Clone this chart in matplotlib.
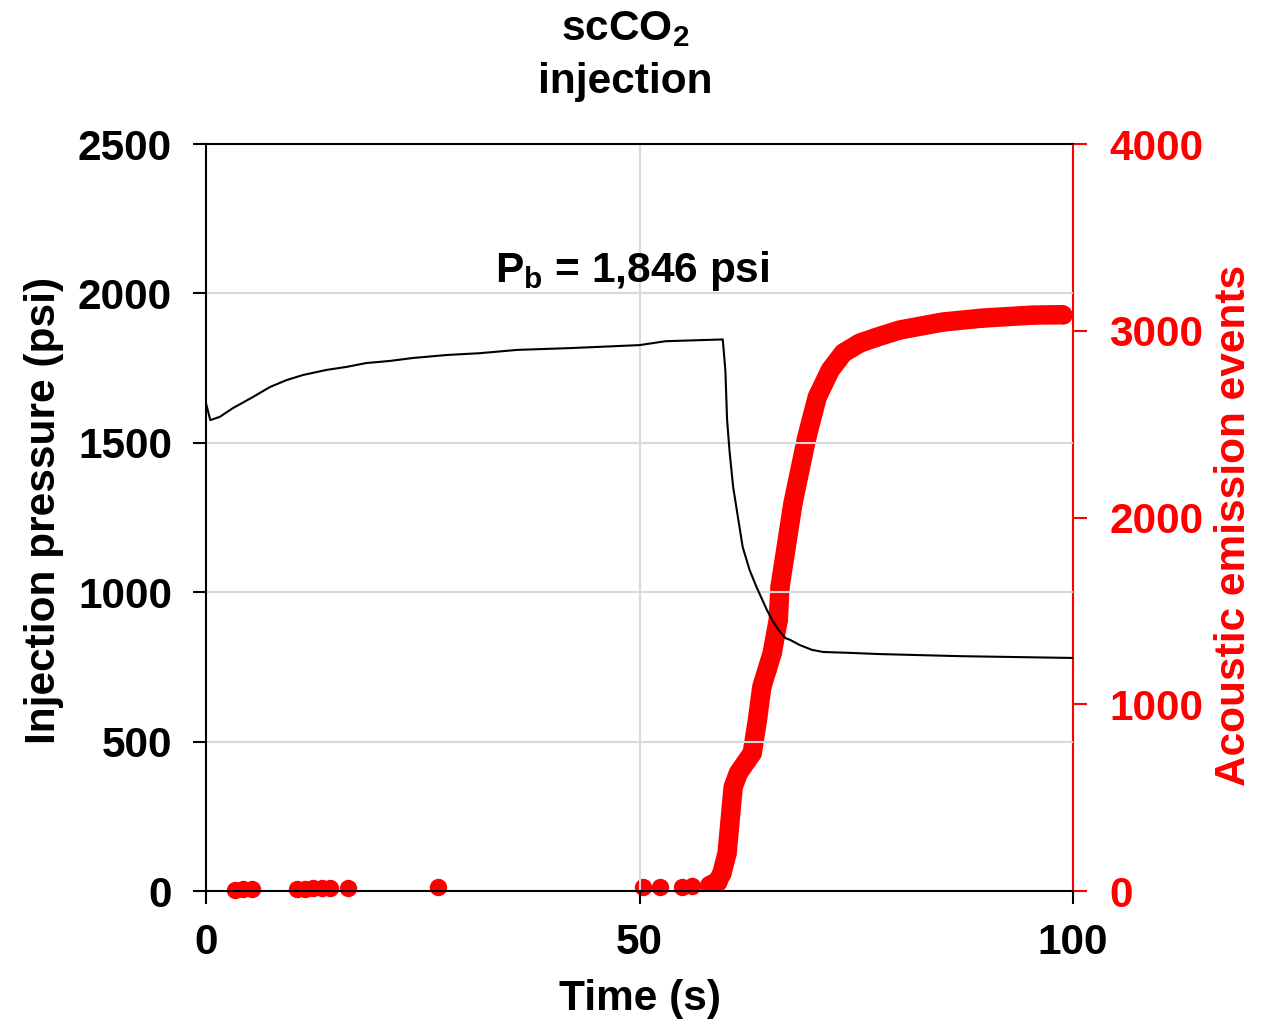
import matplotlib.pyplot as plt

plt.rcParams['font.family'] = ['Liberation Sans', 'DejaVu Sans']
plt.rcParams['font.weight'] = 'bold'
plt.rcParams['mathtext.fontset'] = 'custom'
plt.rcParams['mathtext.rm'] = 'Liberation Sans:bold'
plt.rcParams['mathtext.bf'] = 'Liberation Sans:bold'
plt.rcParams['mathtext.default'] = 'bf'

# injection pressure (psi) vs time (s)
p_time = [0.0, 0.5, 1.6, 3.1, 5.4, 7.4, 9.3, 11.2, 13.9, 16.2, 18.5, 21.2, 23.9, 27.8,
          31.6, 35.9, 42.0, 50.0, 53.0, 59.6, 59.9, 60.1, 60.4, 60.8, 61.4, 61.9, 62.7,
          63.5, 64.7, 65.3, 66.0, 66.8, 67.4, 68.5, 69.9, 71.2, 74.3, 77.7, 87.0, 100.0]
pressure = [1633, 1576, 1587, 1616, 1653, 1687, 1710, 1727, 1744, 1754, 1767, 1774, 1784, 1794,
            1800, 1811, 1817, 1827, 1840, 1846, 1744, 1576, 1466, 1352, 1242, 1151, 1074,
            1017, 940, 907, 875, 847, 840, 823, 807, 800, 797, 793, 786, 780]

# sparse acoustic emission events before breakdown
ae_sparse_t = [3.3, 4.3, 5.3, 10.5, 11.4, 12.3, 13.4, 14.3, 16.4, 26.8, 50.4, 52.4, 54.9, 56.0]
ae_sparse_n = [8, 10, 10, 12, 12, 14, 14, 16, 18, 20, 22, 22, 24, 26]

# cumulative acoustic emission events after breakdown
ae_t = [58.1, 59.0, 59.5, 60.1, 60.8, 61.4, 63.0, 63.6, 64.1, 64.7, 65.3, 66.0, 66.2,
        67.7, 69.3, 70.5, 72.0, 73.5, 75.4, 77.4, 80.0, 85.0, 89.6, 95.4, 98.8]
ae_n = [30, 50, 95, 203, 557, 632, 739, 916, 1092, 1183, 1274, 1451, 1628,
        2077, 2431, 2645, 2790, 2881, 2934, 2966, 3004, 3047, 3068, 3084, 3086]

fs = 30.5

fig = plt.figure(figsize=(12.69, 10.25), dpi=100)
ax = fig.add_axes([0.1623, 0.1307, 0.6833, 0.7288])
ax2 = ax.twinx()

ax.set_zorder(ax2.get_zorder() + 1)
ax.patch.set_visible(False)

ax.plot(p_time, pressure, color='black', linewidth=1.5)
ax2.plot(ae_t, ae_n, color='red', linewidth=14, solid_capstyle='round',
         solid_joinstyle='round', marker='o', markersize=12)
ax2.plot(ae_sparse_t, ae_sparse_n, 'o', color='red', markersize=11.5, clip_on=False)

ax.set_xlim(0, 100)
ax.set_ylim(0, 2500)
ax2.set_ylim(0, 4000)
ax.set_xticks([0, 50, 100])
ax.set_yticks([0, 500, 1000, 1500, 2000, 2500])
ax2.set_yticks([0, 1000, 2000, 3000, 4000])

ax.grid(True, axis='y', color='#d9d9d9', linewidth=1.5)
ax.axvline(50, color='#d9d9d9', linewidth=1.5, zorder=0)
ax.set_axisbelow(True)

ax.spines['right'].set_visible(False)
ax2.spines['left'].set_visible(False)
ax2.spines['bottom'].set_visible(False)
ax2.spines['top'].set_visible(False)
ax2.spines['right'].set_color('red')
for s in ['left', 'bottom', 'top']:
    ax.spines[s].set_linewidth(1.5)
ax2.spines['right'].set_linewidth(1.5)

ax.tick_params(axis='x', labelsize=fs, width=1.5, length=9, pad=14)
ax.tick_params(axis='y', labelsize=fs, width=1.5, length=9.5, pad=15)
ax2.tick_params(axis='y', labelsize=fs, width=1.5, length=10, pad=16, colors='red')

ax.set_xlabel('Time (s)', fontsize=fs, fontweight='bold')
ax.set_ylabel('Injection pressure (psi)', fontsize=fs, fontweight='bold')
ax2.set_ylabel('Acoustic emission events', fontsize=fs, fontweight='bold', color='red')
ax.xaxis.set_label_coords(0.5, -0.118)
ax.yaxis.set_label_coords(-0.164, 0.51)
ax2.yaxis.set_label_coords(1.162, 0.49)

ax.text(0.484, 1.139, 'scCO$_2$', transform=ax.transAxes, fontsize=fs,
        fontweight='bold', ha='center', va='baseline')
ax.text(0.484, 1.068, 'injection', transform=ax.transAxes, fontsize=fs,
        fontweight='bold', ha='center', va='baseline')
ax.text(49.1, 2075, 'P$_b$ = 1,846 psi', fontsize=fs, fontweight='bold', ha='center', va='center')

fig.savefig('out.png', dpi=100)
